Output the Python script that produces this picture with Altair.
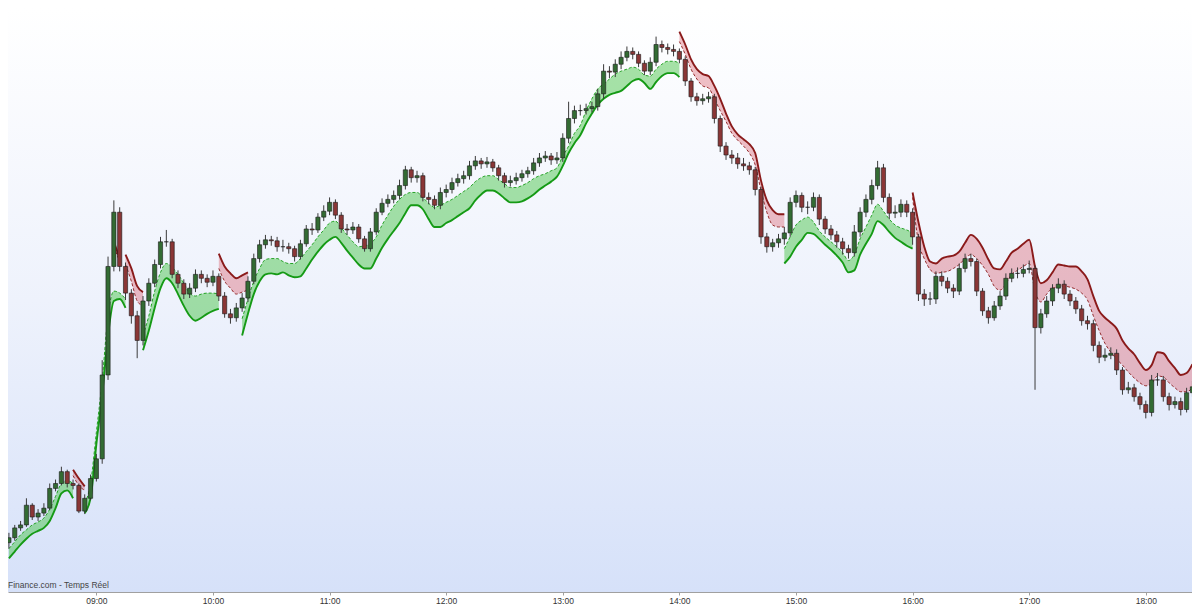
import altair as alt
import pandas as pd

# ---------------- data ----------------
START_MIN = 495      # first candle at 08:15 (minutes after midnight)
STEP = 3             # minutes per candle
OPEN0 = 50           # open of the first candle

close = [
    55, 65, 68, 88, 76, 80, 85, 105, 110, 122,
    110, 108, 82, 95, 115, 135, 220, 330, 385, 330,
    303, 280, 255, 295, 313, 332, 355, 355, 322, 313,
    302, 308, 322, 318, 314, 320, 300, 282, 278, 288,
    298, 315, 338, 352, 357, 356, 350, 350, 348, 340,
    353, 368, 367, 380, 386, 395, 382, 368, 367, 370,
    358, 348, 365, 385, 394, 398, 402, 412, 428, 420,
    422, 400, 398, 392, 405, 408, 415, 419, 422, 432,
    437, 434, 436, 430, 422, 415, 417, 420, 424, 427,
    435, 440, 442, 438, 440, 460, 480, 488, 488, 490,
    492, 505, 528, 527, 535, 542, 548, 545, 536, 528,
    537, 555, 552, 550, 548, 540, 518, 502, 498, 500,
    502, 480, 452, 443, 440, 434, 432, 428, 408, 360,
    350, 354, 358, 364, 395, 402, 390, 390, 400, 378,
    368, 362, 355, 348, 344, 365, 385, 398, 412, 430,
    400, 384, 385, 393, 385, 360, 302, 297, 297, 320,
    315, 308, 305, 328, 338, 335, 305, 285, 278, 290,
    300, 318, 323, 323, 327, 328, 268, 282, 295, 308,
    312, 302, 295, 287, 275, 272, 250, 238, 240, 242,
    225, 205, 207, 198, 190, 182, 215, 215, 198, 190,
    193, 185, 202, 208,
]
high = [
    60, 68, 72, 95, 90, 84, 90, 110, 114, 127,
    124, 114, 110, 99, 119, 140, 235, 340, 397, 390,
    334, 307, 285, 300, 318, 337, 360, 367, 358, 326,
    317, 313, 327, 326, 322, 326, 323, 304, 287, 293,
    303, 320, 343, 357, 362, 361, 360, 357, 354, 351,
    357, 372, 374, 384, 392, 400, 398, 385, 373, 375,
    373, 361, 369, 389, 399, 403, 407, 418, 432, 431,
    427, 425, 405, 402, 410, 413, 420, 424, 427, 437,
    442, 440, 441, 439, 433, 425, 422, 425, 428, 431,
    440, 445, 447, 445, 446, 465, 497, 493, 494, 495,
    497, 510, 535, 533, 540, 548, 553, 552, 548, 539,
    542, 563, 559, 556, 555, 551, 543, 521, 506, 505,
    507, 505, 483, 456, 448, 445, 440, 436, 431, 411,
    364, 358, 363, 370, 400, 407, 405, 396, 405, 403,
    381, 372, 366, 359, 352, 372, 390, 403, 418, 437,
    434, 404, 392, 398, 397, 389, 363, 307, 304, 325,
    325, 319, 312, 333, 343, 343, 338, 308, 289, 295,
    305, 323, 328, 329, 332, 336, 331, 287, 300, 312,
    318, 316, 306, 299, 291, 280, 276, 254, 247, 248,
    246, 228, 213, 211, 202, 194, 220, 222, 219, 202,
    198, 197, 207, 214,
]
low = [
    44, 52, 62, 66, 73, 72, 77, 83, 102, 108,
    106, 104, 80, 79, 93, 112, 130, 215, 325, 325,
    296, 272, 237, 250, 290, 309, 328, 350, 318, 308,
    297, 298, 304, 313, 309, 310, 295, 278, 272, 274,
    284, 294, 312, 334, 348, 351, 345, 345, 343, 335,
    337, 350, 362, 364, 376, 382, 378, 364, 362, 363,
    354, 345, 345, 362, 382, 390, 394, 398, 408, 415,
    415, 396, 393, 388, 388, 400, 404, 411, 414, 418,
    428, 429, 430, 426, 417, 410, 411, 413, 416, 420,
    423, 431, 436, 433, 434, 436, 455, 475, 483, 484,
    486, 488, 500, 521, 522, 530, 538, 540, 532, 524,
    524, 533, 547, 545, 543, 536, 513, 497, 493, 494,
    496, 475, 446, 438, 434, 429, 427, 423, 402, 353,
    344, 345, 349, 352, 360, 390, 385, 383, 386, 372,
    363, 357, 349, 342, 338, 340, 360, 380, 393, 408,
    395, 378, 379, 380, 380, 352, 295, 290, 291, 292,
    310, 303, 298, 301, 324, 330, 300, 280, 272, 275,
    286, 296, 314, 318, 319, 323, 205, 262, 278, 290,
    303, 297, 290, 282, 270, 266, 244, 232, 234, 236,
    220, 200, 201, 193, 185, 176, 178, 209, 193, 184,
    186, 179, 182, 198,
]

# trend band segments (outer = solid line, inner = dashed line)
seg_trend = ["up", "down", "up", "down", "down", "up", "down", "up", "down", "up", "down"]
seg_start = [0, 11, 13, 18, 20, 23, 36, 40, 115, 133, 155]
seg_outer = [
    [34, 41, 48, 54, 59, 62, 65, 72, 85, 100, 103, 95],
    [124, 115, 107],
    [80, 95, 150, 200, 260, 295, 297, 288],
    [355, 338],
    [342, 328, 310, 304],
    [245, 265, 288, 308, 318, 313, 302, 290, 280, 275, 278, 282, 285, 287],
    [343, 330, 323, 318, 321, 324],
    [260, 282, 302, 315, 322, 323, 322, 324, 321, 319,
     320, 328, 337, 345, 352, 357, 360, 354, 346, 339,
     332, 328, 328, 338, 349, 358, 366, 374, 384, 392,
     392, 388, 378, 370, 370, 374, 377, 381, 385, 389,
     397, 403, 407, 407, 404, 399, 395, 395, 396, 399,
     403, 408, 412, 416, 421, 432, 445, 455, 463, 475,
     485, 494, 500, 504, 506, 508, 513, 518, 520, 516,
     510, 517, 523, 526, 526, 522],
    [568, 555, 540, 530, 525, 523, 513, 500, 485, 472,
     464, 459, 454, 445, 417, 397, 387, 383, 383],
    [333, 340, 350, 357, 364, 363, 358, 352, 347, 341,
     334, 324, 326, 342, 353, 363, 376, 372, 365, 359,
     355, 351, 348],
    [405, 375, 350, 335, 333, 338, 340, 341, 345, 354,
     362, 358, 349, 337, 328, 327, 335, 344, 348, 353,
     357, 330, 313, 316, 324, 332, 331, 330, 330, 325,
     317, 300, 285, 278, 273, 267, 255, 247, 241, 232,
     225, 230, 243, 242, 234, 227, 220, 222, 231],
]
seg_inner = [
    [44, 51, 58, 63, 68, 71, 75, 84, 97, 110, 113, 110],
    [118, 108, 103],
    [90, 110, 162, 215, 280, 305, 303, 297],
    [350, 335],
    [332, 315, 295, 290],
    [260, 280, 305, 324, 333, 329, 322, 313, 303, 300, 302, 303, 303, 302],
    [328, 315, 308, 302, 304, 306],
    [277, 297, 315, 328, 337, 338, 338, 335, 333, 333,
     338, 345, 352, 360, 367, 374, 376, 369, 362, 355,
     350, 351, 353, 360, 372, 382, 391, 398, 403, 405,
     405, 400, 394, 390, 392, 395, 398, 402, 406, 410,
     416, 420, 422, 422, 418, 414, 410, 410, 412, 415,
     419, 422, 424, 427, 430, 442, 452, 465, 473, 488,
     500, 510, 515, 520, 525, 528, 530, 532, 530, 524,
     523, 530, 535, 538, 538, 536],
    [558, 545, 530, 520, 513, 511, 500, 488, 477, 465,
     458, 452, 445, 433, 407, 385, 372, 370, 370],
    [348, 360, 372, 377, 380, 375, 366, 360, 355, 350,
     344, 336, 342, 358, 370, 382, 393, 386, 378, 372,
     369, 367, 364],
    [400, 355, 338, 327, 323, 324, 325, 328, 332, 338,
     342, 338, 331, 322, 310, 306, 312, 322, 326, 330,
     333, 305, 294, 302, 308, 309, 310, 309, 307, 303,
     296, 280, 265, 252, 243, 236, 230, 223, 217, 212,
     209, 211, 219, 218, 212, 207, 203, 203, 207],
]

tick_minutes = [540, 600, 660, 720, 780, 840, 900, 960, 1020, 1080]
x_domain = [497.1, 1101.2]
y_domain = [0, 592]
source_text = "Finance.com - Temps Réel"

# ---------------- tables ----------------
n = len(close)
assert len(high) == n and len(low) == n, (n, len(high), len(low))
opens = [OPEN0] + close[:-1]
candles = pd.DataFrame({
    "t": [START_MIN + STEP * i for i in range(n)],
    "open": opens,
    "close": close,
    "high": high,
    "low": low,
})
candles["dir"] = ["up" if c >= o else "down" for o, c in zip(opens, close)]

rows = []
for s, (tr, st, outer, inner) in enumerate(zip(seg_trend, seg_start, seg_outer, seg_inner)):
    assert len(outer) == len(inner), s
    for k, (o, v) in enumerate(zip(outer, inner)):
        rows.append({"t": START_MIN + STEP * (st + k), "outer": o, "inner": v,
                     "seg": s, "trend": tr})
band = pd.DataFrame(rows)
band_up = band[band.trend == "up"]
band_dn = band[band.trend == "down"]

# ---------------- encodings ----------------
label_expr = ("(floor(datum.value/60) < 10 ? '0' : '') + floor(datum.value/60) + ':00'")
X = alt.X("t:Q", scale=alt.Scale(domain=x_domain, nice=False, zero=False),
          axis=alt.Axis(values=tick_minutes, labelExpr=label_expr, title=None,
                        grid=False, domainColor="#a0a0a0", tickColor="#a0a0a0",
                        tickSize=3, labelColor="#333333", labelFontSize=8.5,
                        labelFont="Liberation Sans", labelPadding=1,
                        labelFlush=False))
ys = alt.Scale(domain=y_domain, nice=False, zero=False)

def Y(field):
    return alt.Y(field + ":Q", scale=ys, axis=None)

bg = alt.Chart(pd.DataFrame({"z": [0]})).mark_rect(
    color=alt.LinearGradient(
        gradient="linear",
        stops=[alt.GradientStop(color="#ffffff", offset=0),
               alt.GradientStop(color="#eef2fc", offset=0.5),
               alt.GradientStop(color="#d6e1f9", offset=1)],
        x1=0, x2=0, y1=0, y2=1)
).encode(x=alt.value(0), x2=alt.value("width"), y=alt.value(0), y2=alt.value("height"))

def band_layers(df, fill, line, fill_op):
    area = alt.Chart(df).mark_area(color=fill, opacity=fill_op, interpolate="monotone",
                                   clip=True).encode(
        x=X, y=Y("outer"), y2="inner:Q", detail="seg:N")
    solid = alt.Chart(df).mark_line(color=line, strokeWidth=1.9, interpolate="monotone",
                                    clip=True).encode(
        x=X, y=Y("outer"), detail="seg:N")
    dashed = alt.Chart(df).mark_line(color=line, strokeWidth=0.9, strokeDash=[3, 2],
                                     interpolate="monotone", clip=True).encode(
        x=X, y=Y("inner"), detail="seg:N")
    return [area, solid, dashed]

up_layers = band_layers(band_up, "#3cc03c", "#159a15", 0.45)
dn_layers = band_layers(band_dn, "#d64b58", "#8a1a1a", 0.35)

wicks = alt.Chart(candles).mark_rule(color="#3a3a3a", strokeWidth=1, clip=True).encode(
    x=X, y=Y("low"), y2="high:Q")
bodies = alt.Chart(candles).mark_bar(size=4.2, stroke="#1a1a1a", strokeWidth=0.6,
                                     clip=True).encode(
    x=X, y=Y("open"), y2="close:Q",
    color=alt.Color("dir:N", scale=alt.Scale(domain=["up", "down"],
                                             range=["#336b33", "#8a3636"]), legend=None))

note = alt.Chart(pd.DataFrame({"label": [source_text]})).mark_text(
    align="left", baseline="bottom", fontSize=8.5, color="#444444",
    font="Liberation Sans", dx=0, dy=-2).encode(
    x=alt.value(0), y=alt.value("height"), text="label:N")

chart = alt.layer(bg, *up_layers, *dn_layers, wicks, bodies, note).properties(
    width=1184, height=584,
    autosize=alt.AutoSizeParams(type="none"),
    padding={"left": 0, "top": 0, "right": 0, "bottom": 13},
    background="#ffffff",
).configure_view(stroke=None)

chart.save("out.html", embed_options={"renderer": "svg", "actions": False})
